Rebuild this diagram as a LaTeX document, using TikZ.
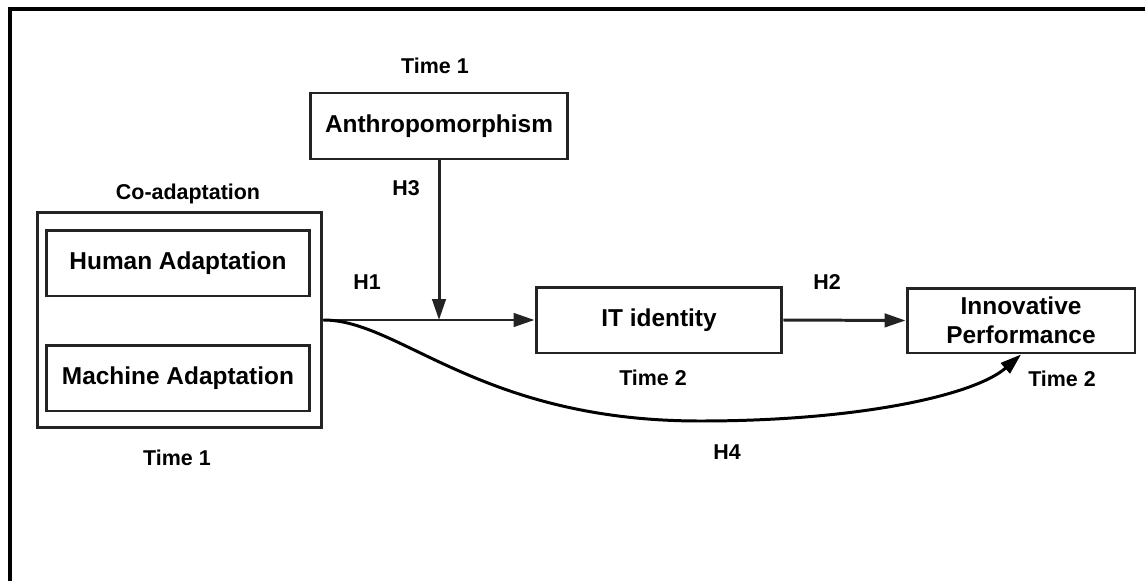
\documentclass[tikz,border=0pt]{standalone}
\usepackage{fontspec}
\setmainfont{Liberation Sans}
\usetikzlibrary{arrows.meta,calc}
\definecolor{boxgray}{HTML}{232323}

\begin{document}
\begin{tikzpicture}[x=0.02cm,y=-0.02cm,
    box/.style={draw=boxgray,line width=1.7pt,inner sep=0pt,minimum height=1.32cm,
        align=center,font=\fontsize{13.9}{16.5}\selectfont\bfseries},
    lbl/.style={inner sep=0pt,font=\fontsize{12.2}{14}\selectfont\bfseries},
    link/.style={draw=boxgray,line width=1.7pt,-{Triangle[length=0.42cm,width=0.27cm]}}]
        \useasboundingbox (0,0) rectangle (1145,581);
        \draw[line width=2.3pt] (1145,9) -- (10,9) -- (10,581);
        % boxes
        \node[box,minimum width=5.7cm,minimum height=4.3cm] (coadapt) at (179.5,320) {};
        \node[box,minimum width=5.28cm] (human) at (178,263) {Human Adaptation};
        \node[box,minimum width=5.28cm] (machine) at (178,378) {Machine Adaptation};
        \node[box,minimum width=5.16cm] (anthro) at (439,126) {Anthropomorphism};
        \node[box,minimum width=4.92cm] (itid) at (659,320) {IT identity};
        \node[box,minimum width=4.56cm,minimum height=1.3cm] (innov) at (1021,320.5) {Innovative\\Performance};
        % labels
        \node[lbl] (t1top) at (435,66) {Time 1};
        \node[lbl] (coadaptlbl) at (188,194) {Co-adaptation};
        \node[lbl] (t1bot) at (177,458) {Time 1};
        \node[lbl] (t2it) at (653,378) {Time 2};
        \node[lbl] (t2innov) at (1062,379) {Time 2};
        \node[lbl] (h1) at (367,282) {H1};
        \node[lbl] (h2) at (827,282) {H2};
        \node[lbl] (h3) at (406,188) {H3};
        \node[lbl] (h4) at (727,452) {H4};
        % paths
        \coordinate (hit) at (anthro.south |- itid.west);
        \draw[link] (coadapt.east) -- (itid.west);
        \draw[link] (anthro.south) -- (hit);
        \draw[link] (itid.east) -- (innov.west);
        \draw[link,draw=black] (coadapt.east) .. controls (400,320) and (480,421) .. (700,421)
            .. controls (860,421) and (975,395) .. (innov.south);
    \end{tikzpicture}
\end{document}
